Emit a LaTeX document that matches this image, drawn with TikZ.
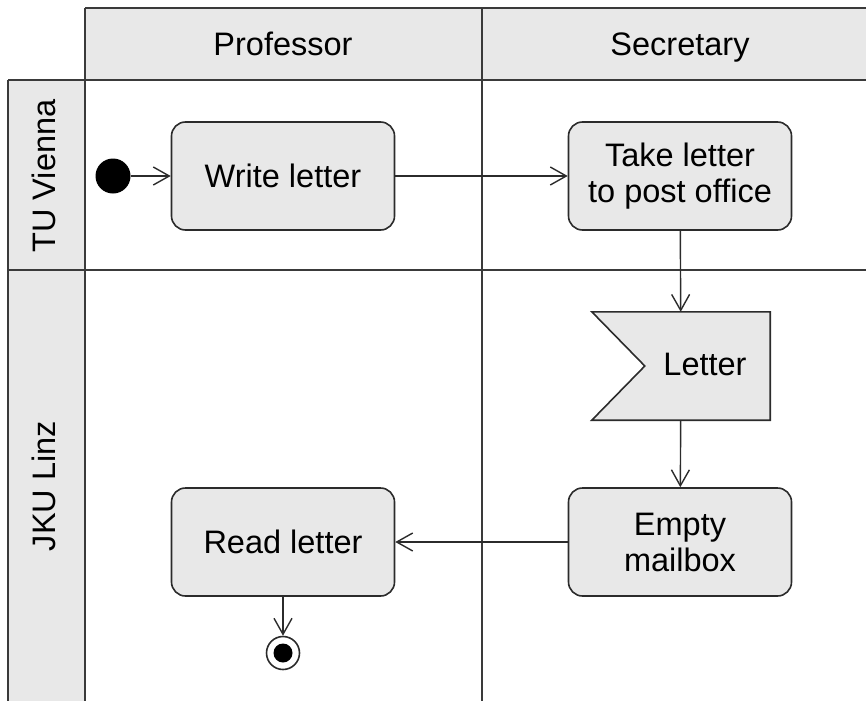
\documentclass[tikz,border=0pt]{standalone}
\usepackage{fontspec}
\setmainfont{Liberation Sans}
\usetikzlibrary{arrows.meta,calc}
\definecolor{boxfill}{HTML}{E8E8E8}
\definecolor{edgecol}{HTML}{2B2B2B}
\definecolor{gridcol}{HTML}{3A3A3A}
\begin{document}
\begin{tikzpicture}[x=1pt,y=-1pt,
  grid/.style={draw=gridcol,line width=1.6pt},
  lbl/.style={font=\fontsize{32.5}{36}\selectfont,inner sep=0pt,text height=23pt,text depth=0pt},
  action/.style={rectangle,rounded corners=14pt,draw=edgecol,fill=boxfill,line width=1.6pt,
    minimum width=223pt,minimum height=108pt,align=center,inner sep=0pt,
    font=\fontsize{32.5}{36}\selectfont},
  flow/.style={draw=edgecol,line width=1.4pt,-{Straight Barb[length=16pt,width=18pt,line width=1.4pt]}},
]
\useasboundingbox (0,0) rectangle (866,701);
% swimlane backgrounds
\fill[boxfill] (85,8) rectangle (866,80);
\fill[boxfill] (8,80) rectangle (85,701);
% grid lines
\draw[grid] (85,8) -- (866,8);
\draw[grid] (8,80) -- (866,80);
\draw[grid] (8,270) -- (866,270);
\draw[grid] (8,80) -- (8,701);
\draw[grid] (85,8) -- (85,701);
\draw[grid] (482,8) -- (482,701);
% headers
\node[lbl] (hprof) at (283,44) {Professor};
\node[lbl] (hsec) at (680,44) {Secretary};
\node[lbl,rotate=90] (ltu) at (44,176) {TU Vienna};
\node[lbl,rotate=90] (ljku) at (44,486) {JKU Linz};
% nodes
\node[circle,fill=black,minimum size=35pt,inner sep=0pt] (init) at (113,176) {};
\node[action] (write) at (283,176) {Write letter};
\node[action] (take) at (680,176) {Take letter\\to post office};
\node[minimum width=178pt,minimum height=108pt,inner sep=0pt] (letter) at (681,366) {};
\filldraw[draw=edgecol,fill=boxfill,line width=1.6pt,line join=miter]
  (letter.north west) -- (letter.north east) -- (letter.south east) -- (letter.south west)
  -- ($(letter.west)+(53,0)$) -- cycle;
\node[lbl] (lettertext) at (705,364) {Letter};
\node[action] (empty) at (680,542) {Empty\\mailbox};
\node[action] (read) at (283,542) {Read letter};
\node[circle,draw=edgecol,fill=white,line width=1.6pt,minimum size=33pt,inner sep=0pt] (final) at (283,653) {};
\node[circle,fill=black,minimum size=19pt,inner sep=0pt] (finaldot) at (final.center) {};
% flows
\draw[flow] (init) -- (write);
\draw[flow] (write) -- (take);
\draw[flow] (take) -- (letter);
\draw[flow] (letter) -- (empty);
\draw[flow] (empty) -- (read);
\draw[flow] (read) -- (final);
\end{tikzpicture}
\end{document}
